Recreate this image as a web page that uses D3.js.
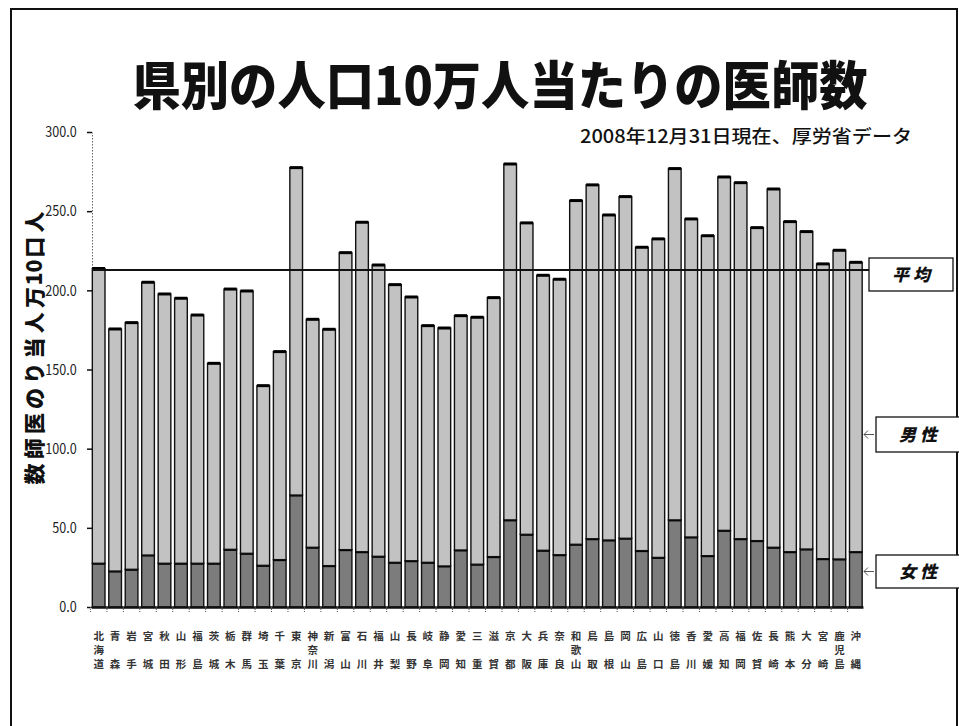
<!DOCTYPE html>
<html>
<head>
<meta charset="utf-8">
<script src="https://cdn.jsdelivr.net/npm/d3@7"></script>
<style>
  body { margin: 0; background: #fff; }
  text { font-family: 'Noto Sans CJK JP', sans-serif; }
</style>
</head>
<body>
<div class="canvas"></div>
<script>

// 都道府県（北から順）
const prefs = ['北海道','青森','岩手','宮城','秋田','山形','福島','茨城','栃木','群馬','埼玉','千葉','東京','神奈川',
  '新潟','富山','石川','福井','山梨','長野','岐阜','静岡','愛知','三重','滋賀','京都','大阪','兵庫','奈良','和歌山',
  '鳥取','島根','岡山','広島','山口','徳島','香川','愛媛','高知','福岡','佐賀','長崎','熊本','大分','宮崎','鹿児島','沖縄'];

// 女性医師（人口10万人当たり）
const female = [27.6,22.7,23.8,32.8,27.6,27.6,27.6,27.6,36.4,33.9,26.3,29.9,70.7,37.7,26.1,36.2,34.9,32.0,28.2,29.2,
  28.2,25.9,36.0,27.0,31.8,55.0,45.9,35.8,33.0,39.6,43.1,42.3,43.4,35.6,31.3,55.0,44.2,32.4,48.4,43.1,41.9,37.7,34.9,
  36.6,30.5,30.3,34.9];

// 男性医師（人口10万人当たり）
const male = [186.2,152.9,155.8,172.3,170.1,167.4,156.8,126.3,164.4,165.7,113.5,131.4,206.8,144.0,149.3,187.6,208.1,
  184.0,175.4,166.6,149.5,150.3,148.0,156.0,163.6,224.8,196.7,173.7,174.0,217.1,223.5,205.3,215.8,191.6,201.2,221.9,
  200.9,202.1,223.2,224.9,197.7,226.3,208.5,200.5,186.2,195.0,182.8];

const average = 212.9;
const yTicks = [0, 50, 100, 150, 200, 250, 300];
const yLabel = ['人','口','10','万','人','当','り','の','医','師','数'];

const svg = d3.select('.canvas')
  .append('svg')
    .attr('width', 959)
    .attr('height', 726);

// 外枠
svg.append('rect')
  .attr('x', 11).attr('y', 9)
  .attr('width', 946).attr('height', 730)
  .attr('fill', 'none')
  .attr('stroke', '#111')
  .attr('stroke-width', 2);

// タイトル
svg.append('text')
  .attr('x', 500).attr('y', 105)
  .attr('text-anchor', 'middle')
  .attr('font-size', 52)
  .attr('font-weight', 900)
  .attr('textLength', 735)
  .attr('lengthAdjust', 'spacingAndGlyphs')
  .attr('fill', '#111')
  .text('県別の人口10万人当たりの医師数');

svg.append('text')
  .attr('x', 580).attr('y', 143)
  .attr('font-size', 18)
  .attr('font-weight', 500)
  .attr('textLength', 332)
  .attr('lengthAdjust', 'spacingAndGlyphs')
  .attr('fill', '#111')
  .text('2008年12月31日現在、厚労省データ');

const x = d3.scaleBand()
  .domain(prefs)
  .range([91.5, 863])
  .paddingInner(0.23)
  .paddingOuter(0.05);

const y = d3.scaleLinear()
  .domain([0, 300])
  .range([607, 132]);

const table = prefs.map((p, i) => ({name: p, female: female[i], male: male[i]}));
const stacked = d3.stack().keys(['female', 'male'])(table);
const fills = {female: '#7c7c7c', male: '#c2c2c2'};

// y軸
const yAxis = svg.append('g')
  .attr('transform', 'translate(92,0)')
  .call(d3.axisLeft(y).tickValues(yTicks).tickFormat(d3.format('.1f')).tickSize(5).tickSizeOuter(0));
yAxis.select('.domain').attr('stroke', '#666').attr('stroke-dasharray', '1.5,1.5');
yAxis.selectAll('.tick line').attr('stroke', '#111').attr('stroke-width', 1.5);
yAxis.selectAll('.tick text')
  .attr('x', -17)
  .attr('font-family', "'Liberation Sans Narrow', 'Liberation Sans', sans-serif")
  .attr('font-size', 14)
  .attr('fill', '#222')
  .attr('transform', 'scale(0.9,1.05)');

// 縦の軸ラベル
svg.append('g')
  .selectAll('text')
  .data(yLabel)
  .enter()
  .append('text')
    .attr('transform', (d, i) => `translate(35,${222 + i * 25.2}) rotate(-90)`)
    .attr('text-anchor', 'middle')
    .attr('dy', '0.35em')
    .attr('font-size', 21)
    .attr('font-weight', 900)
    .attr('fill', '#111')
    .text(d => d);

// 棒（積み上げ）
const groups = svg.selectAll('g.series')
  .data(stacked)
  .enter()
  .append('g')
    .attr('class', 'series')
    .attr('fill', d => fills[d.key]);

groups.selectAll('rect')
  .data(d => d)
  .enter()
  .append('rect')
    .attr('x', d => x(d.data.name))
    .attr('y', d => y(d[1]))
    .attr('width', x.bandwidth())
    .attr('height', d => y(d[0]) - y(d[1]))
    .attr('stroke', '#111')
    .attr('stroke-width', 1.4);

groups.selectAll('line')
  .data(d => d)
  .enter()
  .append('line')
    .attr('x1', d => x(d.data.name))
    .attr('x2', d => x(d.data.name) + x.bandwidth())
    .attr('y1', d => y(d[1]))
    .attr('y2', d => y(d[1]))
    .attr('stroke', '#000')
    .attr('stroke-width', 3);

// x軸
const xAxis = svg.append('g')
  .attr('transform', 'translate(0,607)')
  .call(d3.axisBottom(x).tickSize(0).tickFormat(''));
xAxis.select('.domain').attr('stroke', '#111').attr('stroke-width', 2.5);

svg.append('g')
  .selectAll('line')
  .data(prefs)
  .enter()
  .append('line')
    .attr('x1', d => x(d) - x.step() * x.paddingInner() / 2)
    .attr('x2', d => x(d) - x.step() * x.paddingInner() / 2)
    .attr('y1', 607).attr('y2', 612)
    .attr('stroke', '#555')
    .attr('stroke-dasharray', '1,1');

// 県名（縦書き）
const labels = svg.append('g')
  .selectAll('g')
  .data(prefs)
  .enter()
  .append('g')
    .attr('transform', d => `translate(${x(d) + x.bandwidth() / 2},0)`);

labels.each(function(d) {
  const ch = Array.from(d);
  const rows = [ch[0], ch.length === 3 ? ch[1] : '', ch[ch.length - 1]];
  d3.select(this).selectAll('text')
    .data(rows)
    .enter()
    .append('text')
      .attr('y', (r, i) => 640 + i * 14)
      .attr('text-anchor', 'middle')
      .attr('font-size', 10.5)
      .attr('font-weight', 700)
      .attr('fill', '#333')
      .text(r => r);
});

// 平均線
svg.append('line')
  .attr('x1', 92).attr('x2', 869)
  .attr('y1', y(average)).attr('y2', y(average))
  .attr('stroke', '#111')
  .attr('stroke-width', 2);

// 凡例ボックス
const boxes = [
  {label: '平 均', x: 869, y: 258, w: 84, h: 33, arrow: false},
  {label: '男 性', x: 876, y: 417, w: 90, h: 35, arrow: true},
  {label: '女 性', x: 876, y: 555, w: 90, h: 33, arrow: true}
];

const box = svg.selectAll('g.box')
  .data(boxes)
  .enter()
  .append('g')
    .attr('class', 'box');

box.append('rect')
  .attr('x', d => d.x).attr('y', d => d.y)
  .attr('width', d => d.w).attr('height', d => d.h)
  .attr('fill', '#fff')
  .attr('stroke', '#111')
  .attr('stroke-width', 1.3);

box.append('text')
  .attr('x', d => d.x + 42)
  .attr('y', d => d.y + d.h / 2)
  .attr('dy', '0.36em')
  .attr('text-anchor', 'middle')
  .attr('font-size', 17)
  .attr('font-weight', 900)
  .attr('font-style', 'italic')
  .attr('fill', '#111')
  .text(d => d.label);

box.filter(d => d.arrow)
  .append('path')
    .attr('d', d => {
      const cy = d.y + d.h / 2;
      return `M${d.x - 2},${cy} L${d.x - 12},${cy} M${d.x - 8},${cy - 4} L${d.x - 12},${cy} L${d.x - 8},${cy + 4}`;
    })
    .attr('fill', 'none')
    .attr('stroke', '#555')
    .attr('stroke-width', 1);

</script>
</body>
</html>
